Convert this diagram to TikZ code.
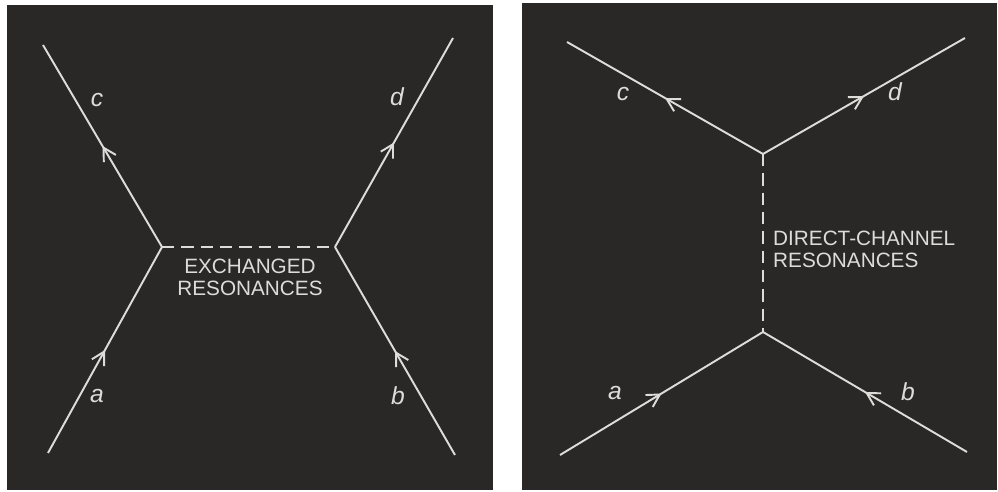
\documentclass[tikz,border=0pt]{standalone}
\usepackage{fontspec}
\setmainfont{Liberation Sans}
\usetikzlibrary{arrows.meta, decorations.markings, positioning}
\definecolor{panelbg}{HTML}{2A2826}
\definecolor{lineink}{HTML}{DCDCD8}
\tikzset{
  panel/.style={fill=panelbg, draw=none},
  leg/.style={draw=lineink, line width=1.1pt, postaction={decorate},
    decoration={markings, mark=at position 0.5 with
      {\arrow{Straight Barb[length=2.5mm, width=2.8mm]}}}},
  prop/.style={draw=lineink, line width=1.1pt, dash pattern=on 7pt off 4pt},
  particle/.style={text=lineink, font=\fontsize{14}{14}\selectfont\itshape},
  caption/.style={text=lineink, font=\fontsize{11.8}{12.6}\selectfont}
}
\begin{document}
\begin{tikzpicture}[x=0.2mm, y=-0.2mm]
\useasboundingbox (0,0) rectangle (998,492);
\fill[white] (0,0) rectangle (998,492);

% exchanged resonances
\fill[panel] (7,5) rectangle (493,490);
\coordinate (lc) at (43,45);
\coordinate (ld) at (453,38);
\coordinate (la) at (48,453);
\coordinate (lb) at (455,455);
\coordinate (lv1) at (162,247);
\coordinate (lv2) at (335,247);
\draw[leg] (lv1) -- (lc);
\draw[leg] (lv2) -- (ld);
\draw[leg] (la) -- (lv1);
\draw[leg] (lb) -- (lv2);
\draw[prop] (lv1) -- (lv2);
\node (lcap) [caption, align=center] at (250,277) {EXCHANGED\\RESONANCES};
\node (lclab) [particle] at (97,100) {c};
\node (ldlab) [particle] at (397,97) {d};
\node (lalab) [particle] at (97,396) {a};
\node (lblab) [particle] at (398,396) {b};

% direct-channel resonances
\fill[panel] (522,3) rectangle (997,490);
\coordinate (rc) at (567,42);
\coordinate (rd) at (965,38);
\coordinate (ra) at (560,455);
\coordinate (rb) at (967,452);
\coordinate (rv1) at (763,154);
\coordinate (rv2) at (763,332);
\draw[leg] (rv1) -- (rc);
\draw[leg] (rv1) -- (rd);
\draw[leg] (ra) -- (rv2);
\draw[leg] (rb) -- (rv2);
\draw[prop] (rv1) -- (rv2);
\node (rcap) [caption, align=left, anchor=west] at (767,249)
      {DIRECT-CHANNEL\\RESONANCES};
\node (rclab) [particle] at (623,94) {c};
\node (rdlab) [particle] at (895,92) {d};
\node (ralab) [particle] at (615,393) {a};
\node (rblab) [particle] at (908,392) {b};
\end{tikzpicture}
\end{document}
